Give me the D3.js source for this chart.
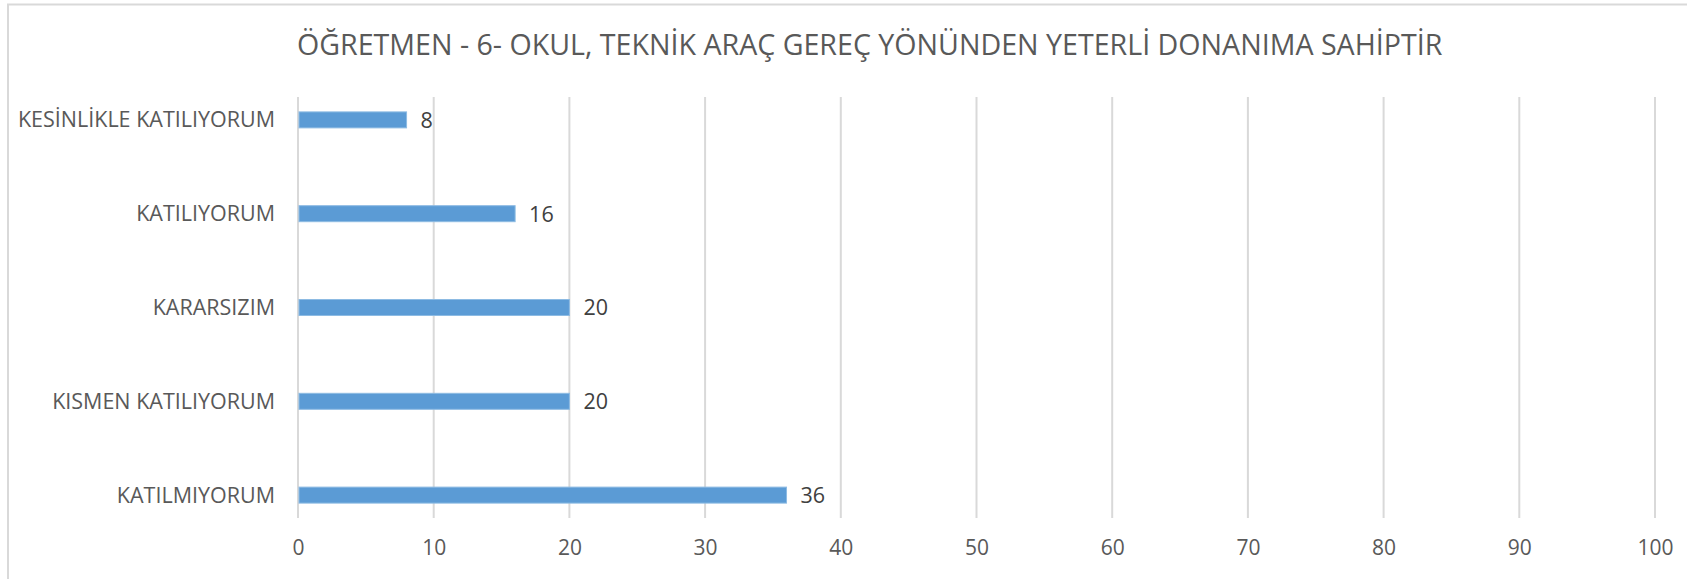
<!DOCTYPE html>
<html>
<head>
<meta charset="utf-8">
<script src="https://cdn.jsdelivr.net/npm/d3@7"></script>
<style>
  body { margin: 0; background: #fff; }
  svg { display: block; font-family: "Open Sans", sans-serif; }
</style>
</head>
<body>
<svg id="chart" width="1687" height="579"></svg>
<script>
// data
var categories = ["KESİNLİKLE KATILIYORUM", "KATILIYORUM", "KARARSIZIM", "KISMEN KATILIYORUM", "KATILMIYORUM"];
var values = [8, 16, 20, 20, 36];
var xTicks = [0, 10, 20, 30, 40, 50, 60, 70, 80, 90, 100];
var title = "ÖĞRETMEN - 6- OKUL, TEKNİK ARAÇ GEREÇ YÖNÜNDEN YETERLİ DONANIMA SAHİPTİR";

var svg = d3.select("#chart");
var width = +svg.attr("width"), height = +svg.attr("height");

var plot = { left: 298, right: 1655, top: 97, bottom: 518 };

// chart area frame (runs off the right and bottom edges)
svg.append("rect")
  .attr("x", 8).attr("y", 4.5)
  .attr("width", width + 50).attr("height", height + 50)
  .attr("fill", "none")
  .attr("stroke", "#d9d9d9")
  .attr("stroke-width", 2);

svg.append("text")
  .attr("x", 297)
  .attr("y", 55)
  .attr("fill", "#595959")
  .style("font-size", "28.6px")
  .text(title);

var x = d3.scaleLinear().domain([0, 100]).range([plot.left, plot.right]);
var y = d3.scalePoint().domain(categories).range([plot.top, plot.bottom]).padding(0.244);

// vertical gridlines
svg.append("g")
  .selectAll("line")
  .data(xTicks)
  .join("line")
  .attr("x1", function(d) { return x(d); })
  .attr("x2", function(d) { return x(d); })
  .attr("y1", plot.top)
  .attr("y2", plot.bottom)
  .attr("stroke", "#d9d9d9")
  .attr("stroke-width", 2);

// x axis labels
var xAxis = d3.axisBottom(x).tickValues(xTicks).tickSize(0).tickPadding(0);
var gx = svg.append("g")
  .attr("transform", "translate(0," + (plot.bottom + 22) + ")")
  .call(xAxis);
gx.select(".domain").remove();
gx.selectAll("text")
  .attr("fill", "#595959")
  .style("font-size", "21px")
  .style("font-family", "Open Sans, sans-serif");

// category labels
var yAxis = d3.axisLeft(y).tickSize(0).tickPadding(23);
var gy = svg.append("g")
  .attr("transform", "translate(" + plot.left + ",0)")
  .call(yAxis);
gy.select(".domain").remove();
gy.selectAll("text")
  .attr("fill", "#595959")
  .style("font-size", "21.5px")
  .style("font-family", "Open Sans, sans-serif");

var barH = 16;
var data = categories.map(function(c, i) { return { cat: c, val: values[i] }; });

svg.append("g")
  .selectAll("rect")
  .data(data)
  .join("rect")
  .attr("x", x(0) + 1)
  .attr("y", function(d) { return y(d.cat) - barH / 2; })
  .attr("width", function(d) { return x(d.val) - x(0) - 1; })
  .attr("height", barH)
  .attr("fill", "#5b9bd5")
  .attr("stroke", "#8dbbe3")
  .attr("stroke-width", 1);

svg.append("g")
  .selectAll("text")
  .data(data)
  .join("text")
  .attr("x", function(d) { return x(d.val) + 14; })
  .attr("y", function(d) { return y(d.cat); })
  .attr("dy", "0.37em")
  .attr("fill", "#404040")
  .style("font-size", "21.5px")
  .text(function(d) { return d.val; });
</script>
</body>
</html>
